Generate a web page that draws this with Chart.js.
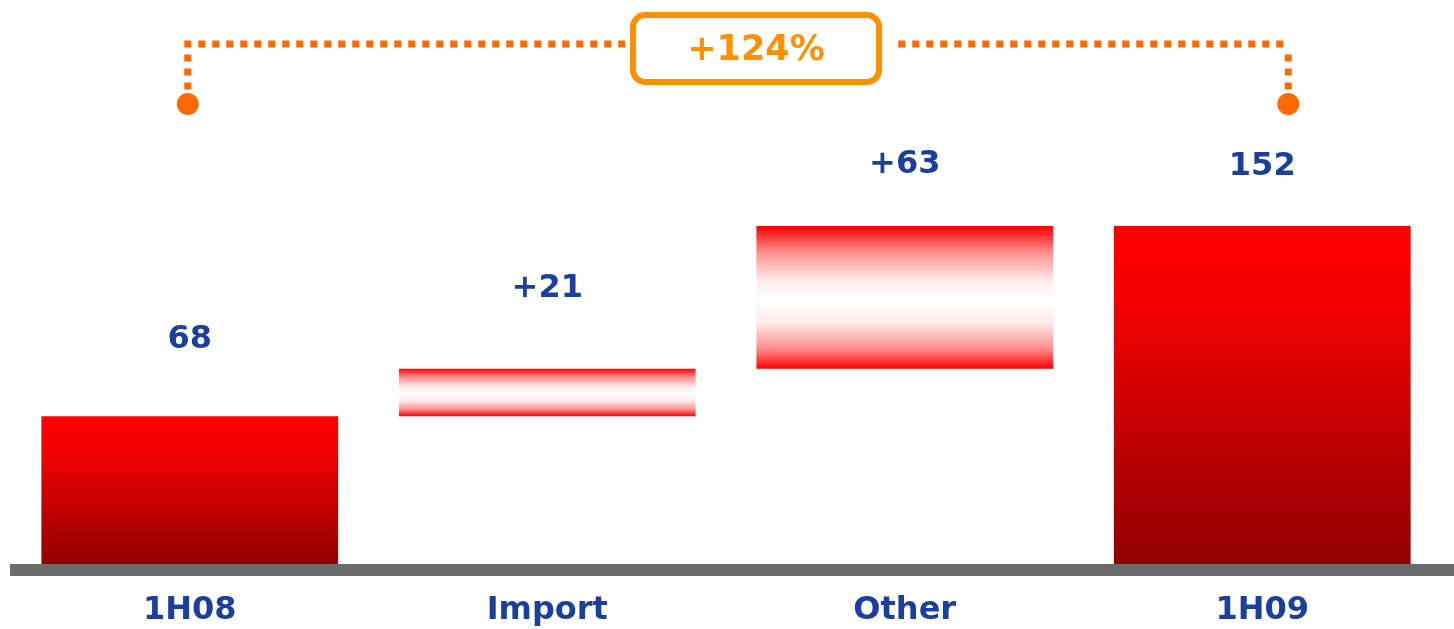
<!DOCTYPE html>
<html>
<head>
<meta charset="utf-8">
<script src="https://cdn.jsdelivr.net/npm/chart.js@4.4.0/dist/chart.umd.min.js"></script>
<style>
  html, body { margin: 0; padding: 0; background: #fff; }
  #wrap { width: 1454px; height: 629px; position: relative; }
</style>
</head>
<body>
<div id="wrap"><canvas id="bridgeChart"></canvas></div>
<script>
// data
const categories = ['1H08', 'Import', 'Other', '1H09'];
const values = [68, 21, 63, 152];
const isTotal = [true, false, false, true];
const valueLabels = ['68', '+21', '+63', '152'];
const growthLabel = '+124%';

// floating ranges for the bridge
const ranges = [];
let running = 0;
for (let i = 0; i < values.length; i++) {
  if (isTotal[i]) {
    ranges.push([0, values[i]]);
    running = values[i];
  } else {
    ranges.push([running, running + values[i]]);
    running += values[i];
  }
}

const BLUE = '#1b3f9c';
const FONT = '"DejaVu Sans", Verdana, sans-serif';
const labelGap = [76, 80, 61, 59]; // distance from bar top to label centre

function barFill(ctx) {
  const chart = ctx.chart;
  const y = chart.scales.y;
  if (!y || !chart.chartArea) return 'red';
  const r = ranges[ctx.dataIndex];
  const top = y.getPixelForValue(r[1]);
  const bot = y.getPixelForValue(r[0]);
  const g = chart.ctx.createLinearGradient(0, top, 0, bot);
  if (isTotal[ctx.dataIndex]) {
    g.addColorStop(0, '#ff0000');
    g.addColorStop(0.18, '#fa0000');
    g.addColorStop(1, '#8e0000');
  } else {
    g.addColorStop(0, '#ff0000');
    g.addColorStop(0.18, '#ff8c8c');
    g.addColorStop(0.38, '#ffeaea');
    g.addColorStop(0.52, '#ffffff');
    g.addColorStop(0.68, '#ffeaea');
    g.addColorStop(0.86, '#ff8c8c');
    g.addColorStop(1, '#ff0000');
  }
  return g;
}

const extras = {
  id: 'extras',
  afterDatasetsDraw(chart) {
    const c = chart.ctx;
    const x = chart.scales.x, y = chart.scales.y;
    const base = y.getPixelForValue(0);

    // base line
    c.save();
    c.fillStyle = '#6b6b6b';
    c.fillRect(10, base - 6, chart.width - 10, 12);

    // value labels
    c.fillStyle = BLUE;
    c.font = 'bold 32px ' + FONT;
    c.textAlign = 'center';
    c.textBaseline = 'middle';
    ranges.forEach((r, i) => {
      c.fillText(valueLabels[i], x.getPixelForValue(i), y.getPixelForValue(r[1]) - labelGap[i]);
    });

    // growth bracket
    const xl = x.getPixelForValue(0) - 2;
    const xr = x.getPixelForValue(categories.length - 1) + 26;
    const ly = 44, dotY = 104;
    c.fillStyle = '#ff6a00';
    const sq = 7, step = 14;
    for (let px = xl; px <= xr + 1; px += step) {
      if (px > 622 && px < 890) continue;
      c.fillRect(px - sq / 2, ly - sq / 2, sq, sq);
    }
    for (const vx of [xl, xr]) {
      for (let py = ly + step; py < dotY - 8; py += step) {
        c.fillRect(vx - sq / 2, py - sq / 2, sq, sq);
      }
      c.beginPath();
      c.arc(vx, dotY, 11, 0, Math.PI * 2);
      c.fill();
    }

    // percent box
    c.strokeStyle = '#ff9000';
    c.lineWidth = 6;
    c.beginPath();
    c.roundRect(633, 15, 246, 67, 12);
    c.stroke();
    c.fillStyle = '#ff9000';
    c.font = 'bold 35px ' + FONT;
    c.fillText(growthLabel, 756, 51);
    c.restore();
  }
};

new Chart(document.getElementById('bridgeChart').getContext('2d'), {
  type: 'bar',
  data: {
    labels: categories,
    datasets: [{
      data: ranges,
      backgroundColor: barFill,
      borderWidth: 0,
      borderSkipped: false,
      barPercentage: 0.83,
      categoryPercentage: 1
    }]
  },
  options: {
    responsive: true,
    maintainAspectRatio: false,
    animation: false,
    layout: { padding: { top: 208, left: 11, right: 13, bottom: 0 } },
    scales: {
      x: {
        grid: { display: false, drawTicks: false },
        border: { display: false },
        afterFit(scale) { scale.height = 59; },
        ticks: {
          color: BLUE,
          padding: 21,
          font: { family: FONT, size: 32, weight: 'bold' }
        }
      },
      y: {
        display: false,
        min: 0,
        max: 160
      }
    },
    plugins: {
      legend: { display: false },
      tooltip: { enabled: false }
    }
  },
  plugins: [extras]
});
</script>
</body>
</html>
